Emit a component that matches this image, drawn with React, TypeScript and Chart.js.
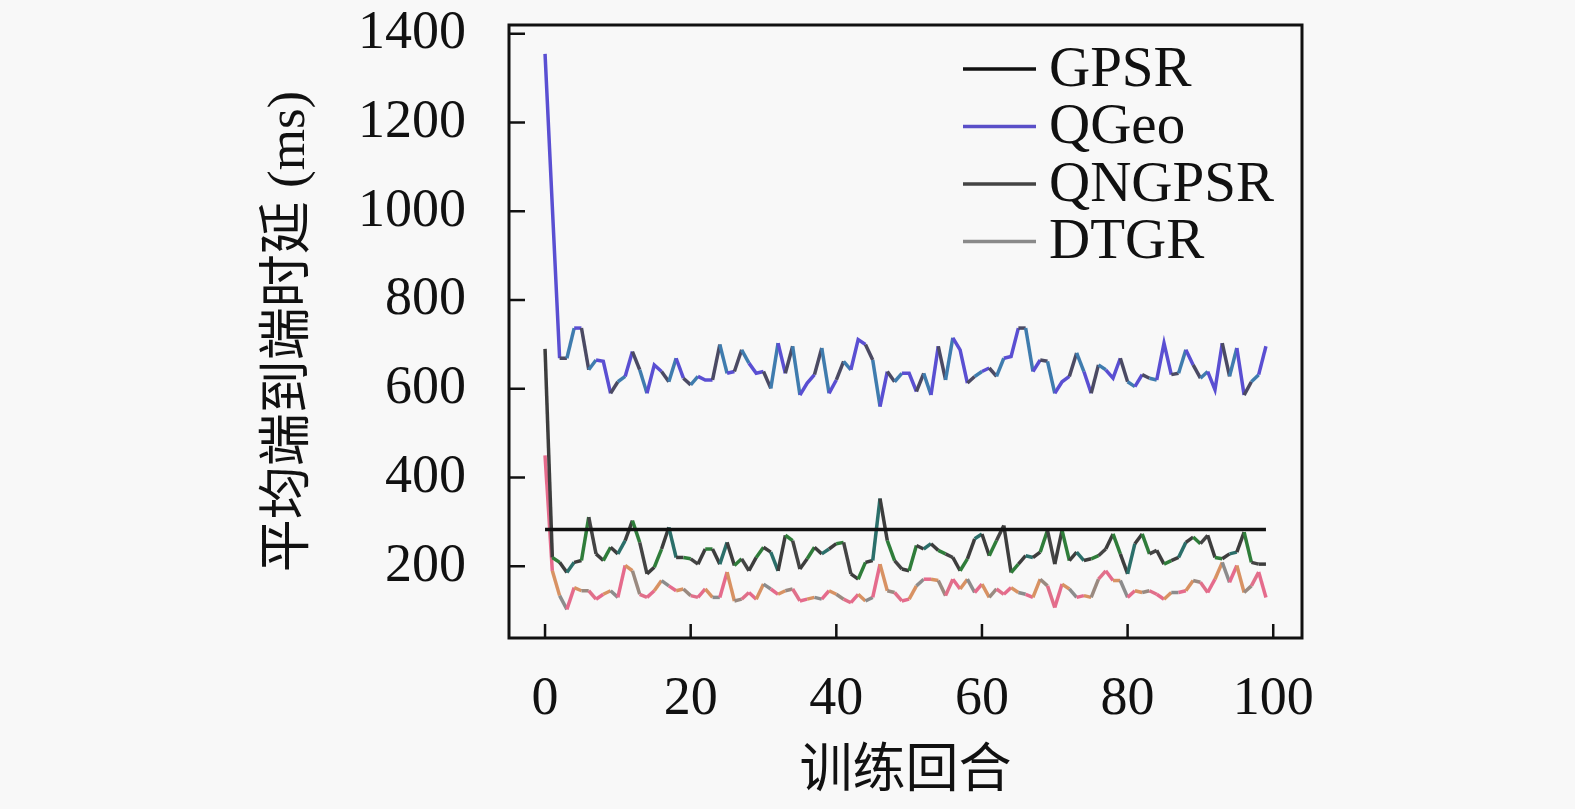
import { useEffect, useRef } from "react"
import Chart from "chart.js/auto"

// 训练回合 0..99
const episodes = Array.from({ length: 100 }, (_, i) => i)
const xTickValues = [0, 20, 40, 60, 80, 100]
const yTickValues = [200, 400, 600, 800, 1000, 1200, 1400]

const gpsr = [
  283, 283, 283, 283, 283, 283, 283, 283, 283, 283, 283, 283, 283, 283, 283, 283, 283, 283, 283, 283,
  283, 283, 283, 283, 283, 283, 283, 283, 283, 283, 283, 283, 283, 283, 283, 283, 283, 283, 283, 283,
  283, 283, 283, 283, 283, 283, 283, 283, 283, 283, 283, 283, 283, 283, 283, 283, 283, 283, 283, 283,
  283, 283, 283, 283, 283, 283, 283, 283, 283, 283, 283, 283, 283, 283, 283, 283, 283, 283, 283, 283,
  283, 283, 283, 283, 283, 283, 283, 283, 283, 283, 283, 283, 283, 283, 283, 283, 283, 283, 283, 283,
]

const qgeo = [
  1355, 1010, 669, 669, 737, 737, 643, 665, 662, 590, 616, 628, 684, 643, 590, 654, 639, 616, 669, 624,
  609, 628, 620, 620, 700, 635, 639, 688, 658, 635, 639, 601, 703, 635, 696, 586, 613, 632, 692, 590,
  620, 662, 643, 711, 700, 665, 560, 639, 616, 635, 635, 594, 635, 586, 696, 620, 715, 688, 613, 628,
  639, 647, 628, 669, 673, 737, 737, 639, 665, 662, 590, 616, 628, 681, 639, 590, 654, 643, 624, 669,
  616, 605, 632, 624, 620, 703, 632, 635, 688, 654, 624, 639, 598, 703, 628, 692, 586, 616, 632, 696,
]

const qngpsr = [
  690, 220, 209, 186, 209, 213, 311, 228, 213, 243, 228, 258, 303, 254, 183, 198, 239, 288, 220, 220,
  217, 205, 239, 239, 205, 254, 202, 217, 190, 220, 243, 232, 190, 270, 258, 194, 217, 243, 228, 239,
  251, 254, 183, 171, 209, 213, 353, 258, 213, 194, 190, 247, 239, 251, 236, 228, 220, 190, 217, 262,
  273, 224, 258, 292, 186, 205, 224, 220, 232, 281, 205, 281, 213, 232, 213, 217, 224, 239, 273, 228,
  183, 251, 273, 228, 236, 205, 213, 220, 254, 266, 251, 270, 220, 217, 228, 232, 277, 209, 205, 205,
]

const dtgr = [
  450, 190, 134, 103, 152, 145, 145, 126, 137, 145, 130, 202, 190, 137, 130, 145, 168, 156, 145, 149,
  134, 130, 149, 130, 130, 187, 122, 126, 141, 126, 160, 149, 137, 145, 149, 122, 126, 130, 126, 145,
  137, 126, 118, 137, 122, 130, 205, 145, 141, 122, 126, 156, 171, 171, 168, 134, 171, 149, 171, 141,
  160, 130, 149, 137, 152, 141, 137, 130, 171, 156, 107, 160, 149, 130, 134, 130, 171, 190, 168, 168,
  130, 145, 141, 145, 137, 126, 141, 141, 145, 168, 164, 141, 171, 209, 164, 202, 141, 156, 187, 130,
]

// 折线分段配色（模仿原图的斑驳颜色）
const qgeoPalette = ["#5a4fd2", "#5a4fd2", "#4b4a63", "#3f7cae", "#5a4fd2", "#4b4a63", "#3f7cae"]
const qngpsrPalette = ["#3d3d3d", "#2f7d3a", "#3d3d3d", "#2b6f6a", "#3d3d3d", "#2f7d3a", "#444444"]
const dtgrPalette = ["#e56b8c", "#d89263", "#8c8c8c", "#e56b8c", "#d89263", "#9a8a80", "#e0708a"]

const serif = "'Liberation Serif', 'Noto Sans CJK SC', serif"

const toPoints = (values: number[]) => values.map((v, i) => ({ x: episodes[i], y: v }))

const framePlugin = {
  id: "frameAndLegend",
  afterDraw(chart: Chart) {
    const { ctx, chartArea } = chart
    const xScale = chart.scales.x
    const yScale = chart.scales.y
    ctx.save()
    ctx.strokeStyle = "#111"
    ctx.lineWidth = 3
    ctx.strokeRect(chartArea.left, chartArea.top, chartArea.right - chartArea.left, chartArea.bottom - chartArea.top)

    // 朝内的刻度线
    ctx.lineWidth = 2.5
    ctx.beginPath()
    yTickValues.forEach((v) => {
      const y = yScale.getPixelForValue(v)
      ctx.moveTo(chartArea.left, y)
      ctx.lineTo(chartArea.left + 16, y)
    })
    xTickValues.forEach((v) => {
      const x = xScale.getPixelForValue(v)
      ctx.moveTo(x, chartArea.bottom)
      ctx.lineTo(x, chartArea.bottom - 14)
    })
    ctx.stroke()

    // 图例
    const legendColors = ["#111111", "#5a4fc8", "#444444", "#8a8a8a"]
    const x0 = chartArea.right - 339
    ctx.font = `57px ${serif}`
    ctx.textBaseline = "middle"
    ctx.textAlign = "left"
    chart.data.datasets.forEach((ds, k) => {
      const y = chartArea.top + 44 + k * 57.5
      ctx.strokeStyle = legendColors[k]
      ctx.lineWidth = 3.5
      ctx.beginPath()
      ctx.moveTo(x0, y)
      ctx.lineTo(x0 + 73, y)
      ctx.stroke()
      ctx.fillStyle = "#111"
      ctx.fillText(String(ds.label), x0 + 86, y + 2)
    })
    ctx.restore()
  },
}

export default function App() {
  const chartRef = useRef<HTMLCanvasElement>(null)
  const chartInstance = useRef<Chart | null>(null)

  useEffect(() => {
    document.body.style.margin = "0"
    document.body.style.background = "#f8f8f8"
    if (!chartRef.current) return
    if (chartInstance.current) chartInstance.current.destroy()

    const ctx = chartRef.current.getContext("2d")
    if (!ctx) return

    chartInstance.current = new Chart(ctx, {
      type: "line",
      data: {
        datasets: [
          { label: "GPSR", data: toPoints(gpsr), borderColor: "#111111", borderWidth: 3.5 },
          {
            label: "QGeo",
            data: toPoints(qgeo),
            borderColor: qgeoPalette[0],
            borderWidth: 3.5,
            segment: { borderColor: (c: any) => qgeoPalette[c.p0DataIndex % qgeoPalette.length] },
          },
          {
            label: "QNGPSR",
            data: toPoints(qngpsr),
            borderColor: qngpsrPalette[0],
            borderWidth: 3.5,
            segment: { borderColor: (c: any) => qngpsrPalette[c.p0DataIndex % qngpsrPalette.length] },
          },
          {
            label: "DTGR",
            data: toPoints(dtgr),
            borderColor: dtgrPalette[0],
            borderWidth: 3.5,
            segment: { borderColor: (c: any) => dtgrPalette[c.p0DataIndex % dtgrPalette.length] },
          },
        ],
      },
      options: {
        animation: false,
        responsive: true,
        maintainAspectRatio: false,
        elements: { point: { radius: 0 }, line: { tension: 0 } },
        layout: { autoPadding: false, padding: { left: 230, right: 273, top: 25, bottom: 0 } },
        plugins: { legend: { display: false }, tooltip: { enabled: false } },
        scales: {
          x: {
            type: "linear",
            min: -4.95,
            max: 103.95,
            grid: { display: false, drawTicks: false },
            border: { display: false },
            afterBuildTicks: (s: any) => {
              s.ticks = xTickValues.map((v) => ({ value: v }))
            },
            afterFit: (s: any) => {
              s.height = 171
              s.paddingLeft = 0
              s.paddingRight = 0
            },
            ticks: {
              color: "#111",
              padding: 29,
              maxRotation: 0,
              font: { family: serif, size: 54 },
              callback: (v: any) => String(v),
            },
            title: {
              display: true,
              text: "训练回合",
              color: "#111",
              font: { family: serif, size: 53 },
              padding: { top: 4, bottom: 4 },
            },
          },
          y: {
            type: "linear",
            min: 38.5,
            max: 1420,
            grid: { display: false, drawTicks: false },
            border: { display: false },
            afterBuildTicks: (s: any) => {
              s.ticks = yTickValues.map((v) => ({ value: v }))
            },
            afterFit: (s: any) => {
              s.width = 279
              s.paddingTop = 0
              s.paddingBottom = 0
            },
            ticks: {
              color: "#111",
              padding: 43,
              font: { family: serif, size: 54 },
              callback: (v: any) => String(v),
            },
            title: {
              display: true,
              text: "平均端到端时延 (ms)",
              color: "#111",
              font: { family: serif, size: 53 },
              padding: { top: 28, bottom: 28 },
            },
          },
        },
      },
      plugins: [framePlugin],
    })

    return () => {
      if (chartInstance.current) {
        chartInstance.current.destroy()
        chartInstance.current = null
      }
    }
  }, [])

  return (
    <div style={{ width: 1575, height: 809, position: "relative", background: "#f8f8f8" }}>
      <canvas ref={chartRef} />
    </div>
  )
}
